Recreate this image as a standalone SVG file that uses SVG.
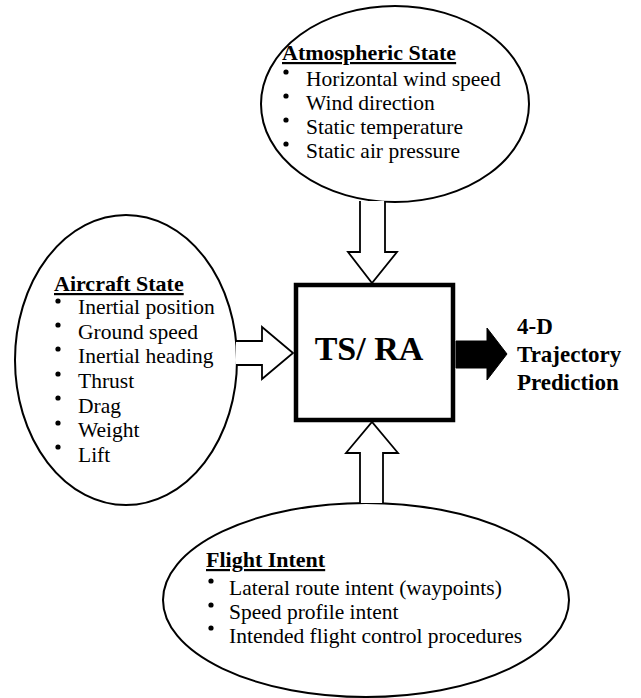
<svg xmlns="http://www.w3.org/2000/svg" width="641" height="698" viewBox="0 0 641 698">
<style>
.ell{fill:#fff;stroke:#000;stroke-width:2}
.arr{fill:#fff;stroke:#000;stroke-width:1.8;stroke-linejoin:miter}
.ttl{font-family:"Liberation Serif","Times New Roman",serif;font-weight:bold;font-size:22px;text-decoration:underline}
.itm{font-family:"Liberation Serif","Times New Roman",serif;font-size:21.5px}
.big{font-family:"Liberation Serif","Times New Roman",serif;font-weight:bold}
</style>
<rect width="641" height="698" fill="#fff"/>
<g id="atmospheric-state">
<ellipse class="ell" cx="395" cy="104" rx="134" ry="98"/>
<text class="ttl" x="282" y="60">Atmospheric State</text>
<circle cx="286" cy="72" r="2.6"/><circle cx="286" cy="96" r="2.6"/><circle cx="286" cy="120" r="2.6"/><circle cx="286" cy="144" r="2.6"/>
<text class="itm" x="306" y="86">Horizontal wind speed</text>
<text class="itm" x="306" y="110">Wind direction</text>
<text class="itm" x="306" y="134">Static temperature</text>
<text class="itm" x="306" y="158">Static air pressure</text>
</g>
<g id="aircraft-state">
<ellipse class="ell" cx="126" cy="360" rx="111" ry="145"/>
<text class="ttl" x="54" y="291">Aircraft State</text>
<circle cx="58" cy="301" r="2.6"/><circle cx="58" cy="325" r="2.6"/><circle cx="58" cy="349" r="2.6"/><circle cx="58" cy="374" r="2.6"/><circle cx="58" cy="398" r="2.6"/><circle cx="58" cy="423" r="2.6"/><circle cx="58" cy="447" r="2.6"/>
<text class="itm" x="78" y="314">Inertial position</text>
<text class="itm" x="78" y="339">Ground speed</text>
<text class="itm" x="78" y="363">Inertial heading</text>
<text class="itm" x="78" y="388">Thrust</text>
<text class="itm" x="78" y="413">Drag</text>
<text class="itm" x="78" y="437">Weight</text>
<text class="itm" x="78" y="462">Lift</text>
</g>
<g id="flight-intent">
<ellipse class="ell" cx="366" cy="600" rx="203" ry="97"/>
<text class="ttl" x="206" y="567">Flight Intent</text>
<circle cx="211" cy="581" r="2.6"/><circle cx="211" cy="605" r="2.6"/><circle cx="211" cy="628" r="2.6"/>
<text class="itm" x="229" y="595">Lateral route intent (waypoints)</text>
<text class="itm" x="229" y="619">Speed profile intent</text>
<text class="itm" x="229" y="643">Intended flight control procedures</text>
</g>
<g id="ts-ra">
<rect x="296" y="285" width="157" height="135" fill="#fff" stroke="#000" stroke-width="4.5"/>
<text class="big" x="369" y="360" font-size="34" text-anchor="middle">TS/ RA</text>
</g>
<g id="trajectory-prediction">
<text class="big" font-size="23" x="517" y="334">4-D</text>
<text class="big" font-size="23" x="517" y="362">Trajectory</text>
<text class="big" font-size="23" x="517" y="390">Prediction</text>
</g>
<g id="connectors">
<path class="arr" d="M360,201 L360,252 L348,252 L372,283 L397,252 L385,252 L385,201"/>
<path class="arr" d="M236,341 L262,341 L262,327 L293,353 L262,379 L262,365 L236,365"/>
<path class="arr" d="M360,503 L360,453 L346,453 L372,422 L398,453 L383,453 L383,503"/>
<path d="M456,341 L487,341 L487,328 L507,354 L487,380 L487,368 L456,368 Z" fill="#000" stroke="#000" stroke-width="1"/>
</g>
</svg>
